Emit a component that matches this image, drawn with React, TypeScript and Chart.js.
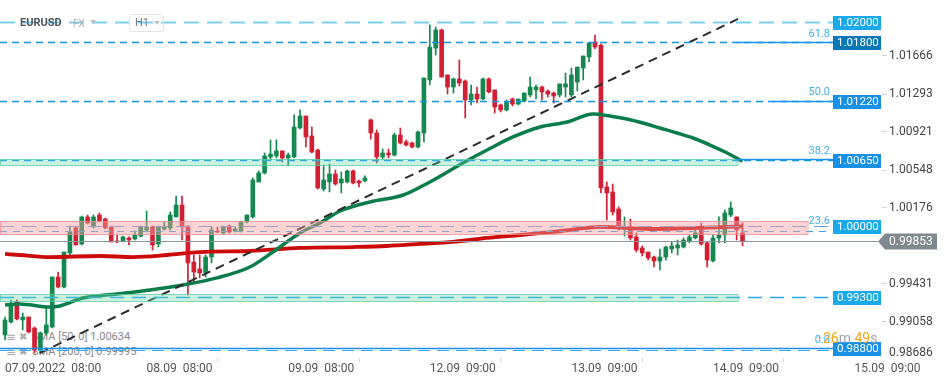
import React, { useEffect, useRef } from "react";
import { Chart, registerables } from "chart.js";

Chart.register(...registerables);

// ---------------- data ----------------
// EURUSD H1 candles, index 0 = 07.09.2022 08:00
const OPEN = [
  0.98931, 0.99058, 0.99254, 0.99078, 0.99107, 0.98999, 0.98784, 0.9895, 0.99009, 0.99499,
  0.99401, 0.99735, 0.9998, 0.99823, 1.00088, 0.9999, 1.00107, 1.00068, 0.9999, 0.99852,
  0.99852, 0.99882, 0.99872, 0.99901, 0.9996, 0.9999, 0.99823, 0.9997, 0.9998, 1.00088,
  1.00205, 0.99999, 0.99646, 0.99578, 0.99539, 0.99695, 0.9995, 0.99931, 0.99999, 0.9995,
  0.9995, 1.00039, 1.00088, 1.00431, 1.00519, 1.00676, 1.00686, 1.00735, 1.00666, 1.00676,
  1.0096, 1.01078, 1.00882, 1.00744, 1.00362, 1.00431, 1.00509, 1.00421, 1.00431, 1.00539,
  1.00441, 1.00441, 1.01039, 1.00911, 1.00676, 1.00715, 1.00695, 1.00892, 1.00823, 1.00813,
  1.00774, 1.00911, 1.01431, 1.01744, 1.01921, 1.0148, 1.01362, 1.01441, 1.01421, 1.01235,
  1.01293, 1.01244, 1.01441, 1.01333, 1.01186, 1.01137, 1.01244, 1.01195, 1.01225, 1.01284,
  1.01333, 1.01362, 1.01323, 1.01303, 1.01284, 1.01362, 1.01284, 1.01411, 1.01548, 1.01656,
  1.01803, 1.01774, 1.00382, 1.00333, 1.00166, 0.9997, 0.9998, 0.99892, 0.99784, 0.99744,
  0.99695, 0.99656, 0.99695, 0.99774, 0.99784, 0.99793, 0.99852, 0.99882, 0.9996, 0.99833,
  0.99656, 0.99882, 0.99911, 1.00107, 1.00088, 0.99931,
];
const HIGH = [
  0.99107, 0.99274, 0.99274, 0.99146, 0.99107, 0.99009, 0.9896, 0.99205, 0.99499, 0.99548,
  0.99744, 0.9999, 0.9999, 1.00097, 1.00107, 1.00107, 1.00127, 1.00078, 0.99999, 0.99911,
  0.99901, 0.99892, 0.9995, 0.99999, 1.00146, 0.99999, 0.99999, 1.00039, 1.00137, 1.00293,
  1.00293, 0.99999, 0.99715, 0.99715, 0.99715, 0.9999, 0.9999, 0.99999, 1.00009, 0.9999,
  1.00048, 1.00107, 1.0047, 1.00539, 1.00715, 1.00843, 1.00843, 1.00735, 1.00715, 1.01088,
  1.01137, 1.01078, 1.0097, 1.00754, 1.00597, 1.00607, 1.00548, 1.00529, 1.00548, 1.00548,
  1.0045, 1.0049, 1.01048, 1.00941, 1.00754, 1.00754, 1.00911, 1.0096, 1.00843, 1.00823,
  1.00931, 1.0145, 1.0197, 1.0195, 1.01931, 1.0148, 1.0145, 1.01627, 1.01431, 1.01382,
  1.01362, 1.0145, 1.0145, 1.01333, 1.01195, 1.01235, 1.01254, 1.01244, 1.01303, 1.0146,
  1.01382, 1.01372, 1.01333, 1.01313, 1.01392, 1.01499, 1.01548, 1.01558, 1.01666, 1.01793,
  1.01872, 1.01784, 1.00431, 1.00411, 1.00186, 1.00088, 1.00068, 0.99931, 0.99803, 0.99744,
  0.99705, 0.99774, 0.99803, 0.99843, 0.99862, 0.99882, 0.99911, 0.9996, 1.00029, 0.99843,
  0.99911, 1.00088, 1.00156, 1.00235, 1.00088, 1.00029,
];
const LOW = [
  0.98882, 0.99048, 0.99078, 0.9898, 0.9895, 0.98754, 0.98754, 0.98931, 0.98999, 0.99392,
  0.99392, 0.99715, 0.99813, 0.99813, 1.00019, 0.9998, 1.00039, 0.9997, 0.99843, 0.99833,
  0.99843, 0.99813, 0.99862, 0.99892, 0.99941, 0.99764, 0.99793, 0.9996, 0.9996, 1.00088,
  0.99862, 0.99323, 0.9945, 0.9949, 0.99499, 0.99637, 0.99931, 0.99921, 0.99931, 0.99941,
  0.99941, 1.00029, 1.00078, 1.00431, 1.00509, 1.00646, 1.00666, 1.00627, 1.00588, 1.00666,
  1.0095, 1.00774, 1.00715, 1.00362, 1.00343, 1.00333, 1.00401, 1.00323, 1.00421, 1.00411,
  1.00382, 1.00431, 1.00852, 1.00617, 1.00656, 1.00666, 1.00686, 1.00803, 1.00784, 1.00764,
  1.00764, 1.00823, 1.01382, 1.01676, 1.0146, 1.01293, 1.01303, 1.01372, 1.01058, 1.01186,
  1.01205, 1.01235, 1.01303, 1.01107, 1.01117, 1.01127, 1.01176, 1.01186, 1.01215, 1.01264,
  1.01244, 1.01235, 1.01264, 1.01205, 1.01264, 1.01264, 1.01264, 1.01323, 1.01431, 1.01607,
  1.01735, 1.00323, 1.00058, 1.00107, 0.9996, 0.99901, 0.99862, 0.99744, 0.99705, 0.99666,
  0.99597, 0.99568, 0.99666, 0.99735, 0.99715, 0.99784, 0.99833, 0.99872, 0.99813, 0.99597,
  0.99646, 0.99833, 0.99833, 1.00088, 0.99862, 0.99803,
];
const CLOSE = [
  0.99078, 0.99225, 0.99088, 0.99107, 0.9896, 0.98784, 0.9895, 0.99029, 0.99499, 0.99401,
  0.99744, 0.99941, 0.99813, 1.00088, 1.00029, 1.00088, 1.00048, 0.9998, 0.99843, 0.99843,
  0.99892, 0.99862, 0.99911, 0.9999, 0.9999, 0.99813, 0.9999, 0.9999, 1.00107, 1.00205,
  0.9999, 0.99637, 0.99548, 0.99539, 0.99695, 0.9996, 0.99941, 0.9999, 0.99941, 0.9997,
  1.00039, 1.00107, 1.0045, 1.00519, 1.00686, 1.00705, 1.00735, 1.00666, 1.00695, 1.0097,
  1.01078, 1.00872, 1.00725, 1.00372, 1.0045, 1.00509, 1.00411, 1.0046, 1.00539, 1.00421,
  1.00421, 1.0047, 1.00911, 1.00676, 1.00715, 1.00695, 1.00892, 1.00813, 1.00793, 1.00774,
  1.00921, 1.0145, 1.01754, 1.01921, 1.0146, 1.01362, 1.01441, 1.01401, 1.01235, 1.01293,
  1.01244, 1.01441, 1.01313, 1.01166, 1.01137, 1.01215, 1.01195, 1.01244, 1.01303, 1.01362,
  1.01362, 1.01313, 1.01293, 1.01274, 1.01392, 1.01392, 1.0148, 1.01558, 1.01666, 1.01793,
  1.01754, 1.00372, 1.00323, 1.00137, 0.9997, 0.9999, 0.99882, 0.99764, 0.99735, 0.99686,
  0.99656, 0.99695, 0.99793, 0.99803, 0.99813, 0.99862, 0.99892, 0.99931, 0.99823, 0.99666,
  0.99882, 0.99911, 1.00127, 1.00176, 0.9996, 0.99853,
];

const X_TICKS = [0, 24, 48, 72, 96, 120, 144];
const X_TICK_LABELS = [
  "07.09.2022  08:00",
  "08.09  08:00",
  "09.09  08:00",
  "12.09  09:00",
  "13.09  09:00",
  "14.09  09:00",
  "15.09  09:00",
];
const Y_TICKS = [1.01666, 1.01293, 1.00921, 1.00548, 1.00176, 0.99431, 0.99058];
const Y_TICK_BOTTOM = 0.98686;
const Y_MIN = 0.98705;
const Y_MAX = 1.02215;
const X_MIN = -0.85;
const X_MAX = 148.64;

// moving averages (candle index -> value)
const SMA50_IDX = [0, 2.5, 7.6, 9.3, 13.2, 19, 24.6, 30.2, 35.9, 41.5, 45.4, 50, 53.4, 56.8, 61.9, 67.5, 72, 77.6, 81.7, 86.1, 90.7, 95.3, 99.7, 102.5, 105.4, 108.1, 111, 113.9, 116.6, 119.5, 122.4, 125];
const SMA50_VAL = [0.99225, 0.99235, 0.99205, 0.99215, 0.99293, 0.99333, 0.99372, 0.99421, 0.9949, 0.99597, 0.99744, 0.99931, 1.00029, 1.00146, 1.00235, 1.00303, 1.00431, 1.00617, 1.00744, 1.00872, 1.0097, 1.01019, 1.01097, 1.01078, 1.01048, 1.01009, 1.0096, 1.00911, 1.00862, 1.00793, 1.00715, 1.00634];
const SMA200_IDX = [0, 2.5, 7.6, 16.1, 21.7, 27.5, 33, 41.5, 50, 59, 64.7, 70.3, 75.9, 81.7, 87.3, 92.9, 98.6, 100.8, 109.3, 117.8, 125];
const SMA200_VAL = [0.99725, 0.99715, 0.99695, 0.99705, 0.99695, 0.99715, 0.99744, 0.99754, 0.99784, 0.99793, 0.99803, 0.99823, 0.99843, 0.99882, 0.99911, 0.99941, 0.9998, 0.9999, 0.9997, 0.9998, 0.99995];
const SMA_LEGEND = ["SMA [50, 0] 1.00634", "SMA [200, 0] 0.99995"];

// trend line
const TREND_IDX = [5.9, 124.6];
const TREND_VAL = [0.98754, 1.02039];

// horizontal levels
const LEVELS = [1.02, 1.018, 1.0122, 1.0065, 1.0, 0.993, 0.988];

// fibonacci
const FIB_LOW = 0.988;
const FIB_HIGH = 1.036544;
const FIB_RATIOS = [0.618, 0.5, 0.382, 0.236, 0];
const FIB_START_IDX = [124, 130, 124, X_MIN, X_MIN];

// zones
const BAND_LOW = [0.99916, 1.00598, 0.99267];
const BAND_HIGH = [1.00048, 1.00656, 0.99333];
const BAND_END_IDX = [136, 124, 124];

const LAST_PRICE = 0.99853;
const COUNTDOWN = ["26", "m", " 49", "s"];

// ---------------- styles ----------------
const FONT = "Roboto, 'Open Sans', 'DejaVu Sans', sans-serif";
const GREEN = "#14884f";
const RED = "#d31f33";
const LEVEL_STYLES = [
  { line: "#7fcdf3", width: 2, dash: [15, 8], box: "#1aa9ea", off: 0 },
  { line: "#1592e2", width: 1.3, dash: [7, 5], box: "#0a78b8", off: 0 },
  { line: "#1592e2", width: 1.3, dash: [7, 5], box: "#1890e6", off: 0 },
  { line: "#1592e2", width: 1.3, dash: [7, 5], box: "#1890e6", off: 0 },
  { line: "#6f9fdc", width: 1.2, dash: [14, 8], box: "#1aa9ea", off: 0 },
  { line: "#2aa6ea", width: 1.3, dash: [14, 8], box: "#1aa9ea", off: 0 },
  { line: "#3aa9f0", width: 1.2, dash: [12, 7], box: "#1890e6", off: 2 },
];
const FIB_STYLES = [
  { dashed: false, color: "#1f93e8", labelDy: -8 },
  { dashed: false, color: "#1f93e8", labelDy: -8 },
  { dashed: false, color: "#1f93e8", labelDy: -8 },
  { dashed: true, color: "#3aa6e6", labelDy: -10 },
  { dashed: false, color: "#1f8fe8", labelDy: -8 },
];
const BAND_STYLES = [
  { fill: "rgba(244,160,160,0.45)", stroke: "rgba(240,140,140,0.75)" },
  { fill: "rgba(110,215,170,0.35)", stroke: "rgba(90,205,160,0.75)" },
  { fill: "rgba(110,215,170,0.35)", stroke: "rgba(90,205,160,0.75)" },
];

const overlayPlugin = {
  id: "overlay",
  afterDatasetsDraw(chart: any) {
    const { ctx, chartArea: a, scales } = chart;
    const xs = scales.x;
    const ys = scales.y;
    const boxL = a.right - 49;
    const Y = (v: number) => Math.round(ys.getPixelForValue(v)) + 0.5;
    ctx.save();
    ctx.beginPath();
    ctx.rect(a.left, a.top, a.right - a.left, a.bottom - a.top);
    ctx.clip();

    // support / resistance lines
    LEVELS.forEach((v, i) => {
      const s = LEVEL_STYLES[i];
      const py = Y(v) + s.off;
      ctx.beginPath();
      ctx.setLineDash(s.dash);
      ctx.lineWidth = s.width;
      ctx.strokeStyle = s.line;
      ctx.moveTo(a.left, py);
      ctx.lineTo(boxL, py);
      ctx.stroke();
    });

    // dashed fib levels (drawn beneath zones)
    FIB_RATIOS.forEach((r, i) => {
      const f = FIB_STYLES[i];
      if (!f.dashed) return;
      const py = Y(FIB_LOW + r * (FIB_HIGH - FIB_LOW));
      ctx.beginPath();
      ctx.setLineDash([7, 6]);
      ctx.lineWidth = 1.2;
      ctx.strokeStyle = f.color;
      ctx.moveTo(xs.getPixelForValue(FIB_START_IDX[i]), py);
      ctx.lineTo(boxL - 4, py);
      ctx.stroke();
    });

    // zones
    ctx.setLineDash([]);
    BAND_LOW.forEach((lo, i) => {
      const s = BAND_STYLES[i];
      const top = Math.round(ys.getPixelForValue(BAND_HIGH[i])) + 0.5;
      const bot = Math.round(ys.getPixelForValue(lo)) + 0.5;
      const right = Math.round(xs.getPixelForValue(BAND_END_IDX[i])) + 0.5;
      ctx.fillStyle = s.fill;
      ctx.fillRect(a.left, top, right - a.left, bot - top);
      ctx.strokeStyle = s.stroke;
      ctx.lineWidth = 1;
      ctx.strokeRect(a.left + 0.5, top, right - a.left, bot - top);
    });

    // solid fib levels
    FIB_RATIOS.forEach((r, i) => {
      const f = FIB_STYLES[i];
      if (f.dashed) return;
      const py = Y(FIB_LOW + r * (FIB_HIGH - FIB_LOW));
      ctx.beginPath();
      ctx.setLineDash([]);
      ctx.lineWidth = 1.3;
      ctx.strokeStyle = f.color;
      ctx.moveTo(xs.getPixelForValue(FIB_START_IDX[i]), py);
      ctx.lineTo(boxL, py);
      ctx.stroke();
    });

    // current price line
    const lp = Y(LAST_PRICE);
    ctx.beginPath();
    ctx.setLineDash([]);
    ctx.lineWidth = 1;
    ctx.strokeStyle = "#8b969c";
    ctx.moveTo(a.left, lp);
    ctx.lineTo(a.right - 4, lp);
    ctx.stroke();

    ctx.restore();

    // level boxes
    ctx.save();
    ctx.textBaseline = "middle";
    ctx.textAlign = "left";
    LEVELS.forEach((v, i) => {
      const s = LEVEL_STYLES[i];
      const py = Math.round(ys.getPixelForValue(v));
      ctx.fillStyle = s.box;
      ctx.fillRect(boxL, py - 6, 48, 14);
      ctx.fillStyle = "#ffffff";
      ctx.font = `11.5px ${FONT}`;
      ctx.fillText(v.toFixed(5), boxL + 4, py + 1.5);
    });

    // fib labels
    ctx.textAlign = "right";
    ctx.font = `11px ${FONT}`;
    FIB_RATIOS.forEach((r, i) => {
      const f = FIB_STYLES[i];
      const py = ys.getPixelForValue(FIB_LOW + r * (FIB_HIGH - FIB_LOW));
      ctx.fillStyle = "#3fb0ec";
      ctx.fillText((r * 100).toFixed(1), boxL - 3, py + f.labelDy);
    });
    ctx.restore();
  },
  afterDraw(chart: any) {
    const { ctx, chartArea: a, scales } = chart;
    const ys = scales.y;
    ctx.save();
    // current price tag
    const py = Math.round(ys.getPixelForValue(LAST_PRICE)) + 0.5;
    ctx.fillStyle = "#7f8a8f";
    ctx.beginPath();
    ctx.moveTo(a.right - 4, py);
    ctx.lineTo(a.right + 3, py - 8);
    ctx.lineTo(a.right + 55, py - 8);
    ctx.lineTo(a.right + 55, py + 8);
    ctx.lineTo(a.right + 3, py + 8);
    ctx.closePath();
    ctx.fill();
    ctx.fillStyle = "#ffffff";
    ctx.font = `12px ${FONT}`;
    ctx.textAlign = "left";
    ctx.textBaseline = "middle";
    ctx.fillText(LAST_PRICE.toFixed(5), a.right + 7, py + 0.5);
    // bottom tick label kept inside the axis
    const by = Math.min(ys.getPixelForValue(Y_TICK_BOTTOM), a.bottom - 5);
    ctx.fillStyle = "#444444";
    ctx.fillText(Y_TICK_BOTTOM.toFixed(5), a.right + 7, by);
    ctx.restore();
  },
};

export default function App() {
  const ref = useRef<HTMLCanvasElement | null>(null);

  useEffect(() => {
    document.body.style.margin = "0";
    const idx = OPEN.map((_, i) => i);
    const colors = idx.map((i) => (CLOSE[i] >= OPEN[i] ? GREEN : RED));

    const chart = new Chart(ref.current as HTMLCanvasElement, {
      type: "bar",
      data: {
        datasets: [
          {
            type: "line",
            data: TREND_IDX.map((x, i) => ({ x, y: TREND_VAL[i] })),
            borderColor: "#2c2c2c",
            borderWidth: 2,
            borderDash: [9, 6],
            pointRadius: 0,
            order: 0,
          } as any,
          {
            type: "line",
            data: SMA50_IDX.map((x, i) => ({ x, y: SMA50_VAL[i] })),
            borderColor: "#0b7d4b",
            borderWidth: 3.5,
            pointRadius: 0,
            cubicInterpolationMode: "monotone",
            order: 1,
          } as any,
          {
            type: "line",
            data: SMA200_IDX.map((x, i) => ({ x, y: SMA200_VAL[i] })),
            borderColor: "#cc0a0a",
            borderWidth: 3.8,
            pointRadius: 0,
            cubicInterpolationMode: "monotone",
            order: 2,
          } as any,
          {
            type: "bar",
            data: idx.map((i) => ({ x: i, y: [OPEN[i], CLOSE[i]] })),
            backgroundColor: colors,
            barThickness: 4,
            minBarLength: 1,
            grouped: false,
            order: 3,
          } as any,
          {
            type: "bar",
            data: idx.map((i) => ({ x: i, y: [LOW[i], HIGH[i]] })),
            backgroundColor: colors,
            barThickness: 1,
            grouped: false,
            order: 4,
          } as any,
        ],
      },
      options: {
        responsive: false,
        maintainAspectRatio: false,
        animation: false,
        events: [],
        layout: { padding: 0 },
        plugins: {
          legend: { display: false },
          tooltip: { enabled: false },
          title: { display: false },
        },
        scales: {
          x: {
            type: "linear",
            position: "bottom",
            min: X_MIN,
            max: X_MAX,
            offset: false,
            border: { display: false },
            grid: {
              display: true,
              drawOnChartArea: false,
              drawTicks: true,
              tickLength: 4,
              color: "#d8d8d8",
            },
            ticks: {
              autoSkip: false,
              maxRotation: 0,
              minRotation: 0,
              align: "start",
              padding: 0,
              color: "#555555",
              font: { family: FONT, size: 12 },
              callback: (_v: any, i: number) => X_TICK_LABELS[i],
            },
            afterBuildTicks: (s: any) => {
              s.ticks = X_TICKS.map((v) => ({ value: v }));
            },
            afterFit: (s: any) => {
              s.height = 26;
              s.paddingLeft = 0;
              s.paddingRight = 0;
            },
          } as any,
          y: {
            type: "linear",
            position: "right",
            min: Y_MIN,
            max: Y_MAX,
            border: { display: false },
            grid: {
              display: true,
              drawOnChartArea: false,
              drawTicks: true,
              tickLength: 5,
              color: "#d6d6d6",
            },
            ticks: {
              padding: 2,
              color: "#444444",
              font: { family: FONT, size: 12 },
              callback: (v: any) => Number(v).toFixed(5),
            },
            afterBuildTicks: (s: any) => {
              s.ticks = Y_TICKS.map((v) => ({ value: v }));
            },
            afterFit: (s: any) => {
              s.width = 67;
              s.paddingTop = 0;
              s.paddingBottom = 0;
            },
          } as any,
        },
      } as any,
      plugins: [overlayPlugin],
    });
    return () => chart.destroy();
  }, []);

  const tri = (color: string) => ({
    width: 0,
    height: 0,
    borderLeft: "3.5px solid transparent",
    borderRight: "3.5px solid transparent",
    borderTop: `4px solid ${color}`,
    position: "absolute" as const,
  });

  return (
    <div
      style={{
        position: "relative",
        width: 949,
        height: 384,
        background: "#ffffff",
        fontFamily: FONT,
        overflow: "hidden",
      }}
    >
      {/* indicator legend (beneath the candles) */}
      <div style={{ position: "absolute", left: 6, top: 330, zIndex: 0, fontSize: 11, lineHeight: "14.5px", color: "#8a8a8a", whiteSpace: "pre" }}>
        {SMA_LEGEND.map((t) => (
          <div key={t} style={{ display: "flex", alignItems: "center" }}>
            <span style={{ color: "#a9a9a9", fontSize: 12, width: 13 }}>≡</span>
            <span style={{ color: "#a9a9a9", fontSize: 10, width: 13 }}>✖</span>
            <span>{t}</span>
          </div>
        ))}
      </div>

      <canvas
        ref={ref}
        width={949}
        height={384}
        style={{ position: "absolute", left: 0, top: 0, width: 949, height: 384, zIndex: 1 }}
      />

      {/* header */}
      <div style={{ position: "absolute", left: 20, top: 15, zIndex: 2, fontSize: 11, fontWeight: 700, color: "#50565c", lineHeight: "15px" }}>
        EURUSD
      </div>
      <div style={{ position: "absolute", left: 73, top: 17, zIndex: 2, fontSize: 10, color: "#a8b0b8", lineHeight: "13px" }}>
        FX
      </div>
      <div style={{ ...tri("#b9c0c6"), left: 90, top: 20, zIndex: 2 }} />
      <div
        style={{
          position: "absolute",
          left: 129,
          top: 14,
          width: 35,
          height: 18,
          boxSizing: "border-box",
          border: "1px solid #e2e5e8",
          borderRadius: 3,
          zIndex: 2,
        }}
      >
        <span style={{ position: "absolute", left: 5, top: 1, fontSize: 11, color: "#737b83", lineHeight: "14px" }}>H1</span>
        <div style={{ ...tri("#b9c0c6"), left: 24, top: 6 }} />
      </div>

      {/* candle countdown */}
      <div style={{ position: "absolute", left: 823, top: 330, zIndex: 2, fontSize: 14, lineHeight: "17px", whiteSpace: "pre" }}>
        {COUNTDOWN.map((t, i) => (
          <span key={i} style={{ color: i % 2 === 0 ? "#f5a31a" : "#9da4aa" }}>
            {t}
          </span>
        ))}
      </div>
    </div>
  );
}
